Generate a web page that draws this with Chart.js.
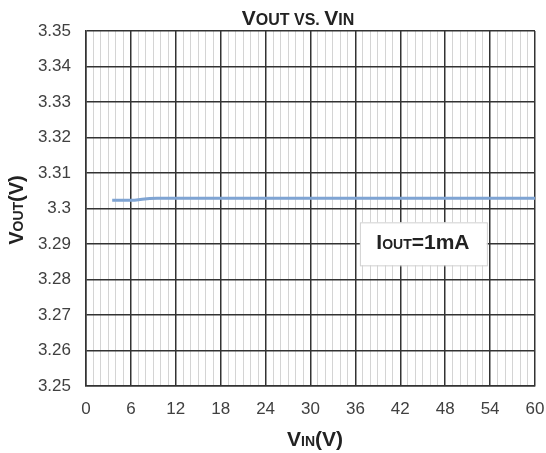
<!DOCTYPE html>
<html>
<head>
<meta charset="utf-8">
<script src="https://cdn.jsdelivr.net/npm/chart.js@4/dist/chart.umd.min.js"></script>
<style>
html, body { margin: 0; padding: 0; background: #fff; }
#wrap { width: 546px; height: 453px; }
</style>
</head>
<body>
<div id="wrap"><canvas id="vout_chart"></canvas></div>
<script>
// VOUT vs VIN, IOUT = 1mA
var vin = [3.5, 5, 6.5, 7.5, 8.5, 9.5, 12, 18, 24, 30, 36, 42, 48, 54, 60];
var vout = [3.3023, 3.3023, 3.3023, 3.3026, 3.3028, 3.3029, 3.3029, 3.3029, 3.3029, 3.3029, 3.3029, 3.3029, 3.3029, 3.3029, 3.3029];
var yTicks = [3.25, 3.26, 3.27, 3.28, 3.29, 3.3, 3.31, 3.32, 3.33, 3.34, 3.35];
var xTicks = [0, 6, 12, 18, 24, 30, 36, 42, 48, 54, 60];

var FONT = '"Liberation Sans", Arial, sans-serif';

// draws big letter + smaller subscript caps, left to right
function subText(ctx, parts, x, y, align) {
    var w = 0;
    parts.forEach(function (p) { ctx.font = p[1]; w += ctx.measureText(p[0]).width; });
    var sx = align === 'center' ? x - w / 2 : x;
    ctx.textAlign = 'left';
    ctx.textBaseline = 'alphabetic';
    parts.forEach(function (p) {
        ctx.font = p[1];
        ctx.fillText(p[0], sx, y);
        sx += ctx.measureText(p[0]).width;
    });
}

var labelsPlugin = {
    id: 'labels',
    afterDraw: function (chart) {
        var ctx = chart.ctx;
        ctx.save();
        ctx.fillStyle = '#222';
        // title
        subText(ctx, [
            ['V', 'bold 21px ' + FONT], ['OUT', 'bold 16px ' + FONT],
            [' VS. ', 'bold 16px ' + FONT],
            ['V', 'bold 21px ' + FONT], ['IN', 'bold 16px ' + FONT]
        ], 298, 25, 'center');
        // x title
        subText(ctx, [
            ['V', 'bold 21px ' + FONT], ['IN', 'bold 14px ' + FONT], ['(V)', 'bold 21px ' + FONT]
        ], 315, 446, 'center');
        // y title
        ctx.save();
        ctx.translate(23, 210);
        ctx.rotate(-Math.PI / 2);
        subText(ctx, [
            ['V', 'bold 20px ' + FONT], ['OUT', 'bold 14px ' + FONT], ['(V)', 'bold 20px ' + FONT]
        ], 0, 0, 'center');
        ctx.restore();
        // annotation box
        var bx = chart.scales.x.getPixelForValue(36.6);
        var by = chart.scales.y.getPixelForValue(3.2961);
        ctx.fillStyle = '#fff';
        ctx.fillRect(bx, by, 127, 43);
        ctx.strokeStyle = '#d0d0d0';
        ctx.lineWidth = 1;
        ctx.strokeRect(bx + 0.5, by + 0.5, 127, 43);
        ctx.fillStyle = '#222';
        subText(ctx, [
            ['I', 'bold 21px ' + FONT], ['OUT', 'bold 14px ' + FONT], ['=1mA', 'bold 21px ' + FONT]
        ], bx + 63, by + 27, 'center');
        ctx.restore();
    }
};

new Chart(document.getElementById('vout_chart'), {
    type: 'line',
    data: {
        datasets: [{
            data: vin.map(function (v, i) { return { x: v, y: vout[i] }; }),
            borderColor: '#7fa4d3',
            borderWidth: 3,
            pointRadius: 0,
            tension: 0,
            fill: false
        }]
    },
    options: {
        responsive: true,
        maintainAspectRatio: false,
        animation: false,
        layout: { padding: { top: 31, right: 0, left: 0, bottom: 0 } },
        plugins: {
            legend: { display: false },
            title: { display: false },
            tooltip: { enabled: false }
        },
        scales: {
            x: {
                type: 'linear',
                min: 0,
                max: 60,
                afterFit: function (s) {
                    s.height = 67;
                    s.paddingLeft = 0;
                    s.paddingRight = 11;
                },
                afterBuildTicks: function (s) {
                    var t = [];
                    for (var i = 0; i <= 60; i++) t.push({ value: i });
                    s.ticks = t;
                },
                ticks: {
                    autoSkip: false,
                    maxRotation: 0,
                    padding: 13,
                    color: '#404040',
                    font: { family: FONT, size: 17 },
                    callback: function (v) { return xTicks.indexOf(v) >= 0 ? String(v) : ''; }
                },
                grid: {
                    drawTicks: false,
                    color: function (c) { return c.tick && c.tick.value % 6 === 0 ? '#333' : '#d4d4d4'; },
                    lineWidth: function (c) { return c.tick && c.tick.value % 6 === 0 ? 1.5 : 1; }
                },
                border: { color: '#333', width: 1.5 }
            },
            y: {
                type: 'linear',
                min: 3.25,
                max: 3.35,
                afterFit: function (s) {
                    s.width = 86;
                    s.paddingTop = 0;
                    s.paddingBottom = 0;
                },
                afterBuildTicks: function (s) {
                    s.ticks = yTicks.map(function (v) { return { value: v }; });
                },
                ticks: {
                    padding: 15,
                    color: '#404040',
                    font: { family: FONT, size: 17 },
                    callback: function (v) { return String(+v.toFixed(2)); }
                },
                grid: {
                    drawTicks: false,
                    color: '#333',
                    lineWidth: 1.5
                },
                border: { color: '#333', width: 1.5 }
            }
        }
    },
    plugins: [labelsPlugin]
});
</script>
</body>
</html>
